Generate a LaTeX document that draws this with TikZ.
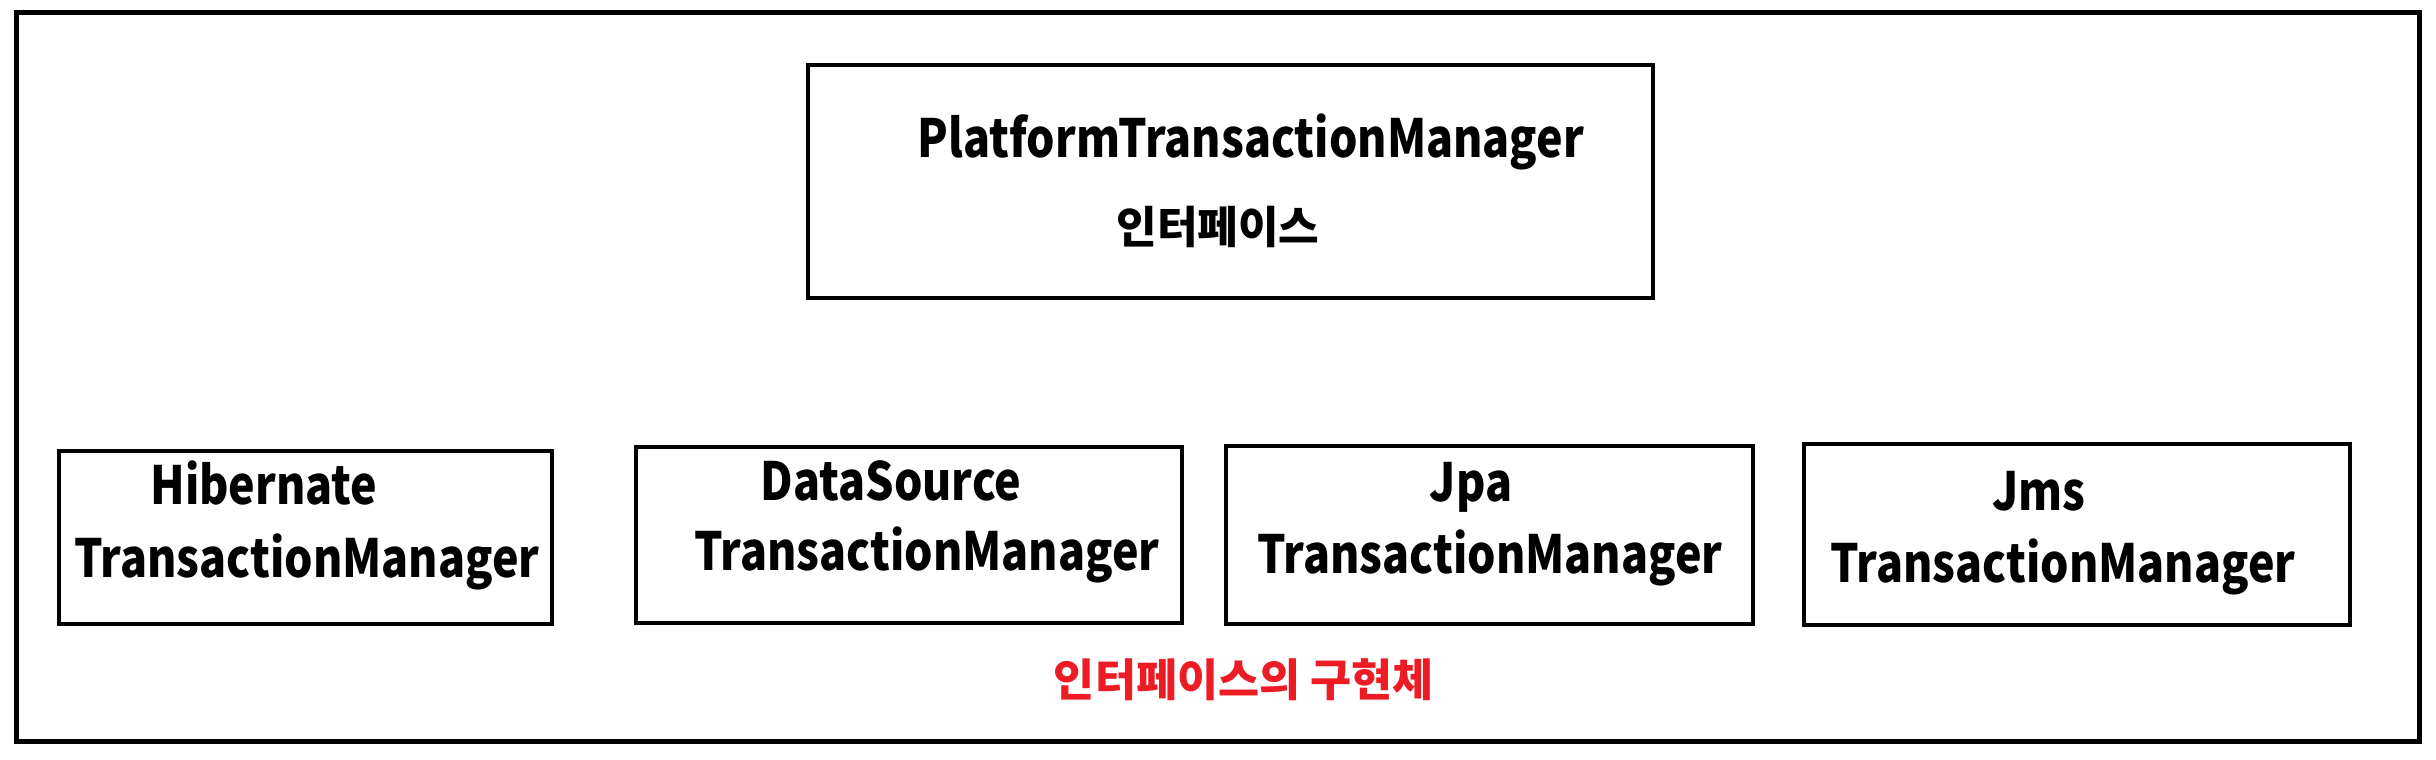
\documentclass[tikz,border=0pt]{standalone}
\usepackage{fontspec}
\newfontfamily\kr{Noto Sans CJK KR}
\newfontfamily\krn{Noto Sans CJK KR}[FakeStretch=0.85]
\definecolor{redtxt}{RGB}{237,28,36}
\tikzset{
  frame/.style={draw=black, line width=1.5pt, inner sep=0pt, fill=none},
  boxn/.style={draw=black, line width=1.4pt, inner sep=0pt},
  lat/.style={inner sep=0pt, anchor=base, font=\krn\bfseries\fontsize{15.8}{18}\selectfont},
  kor/.style={inner sep=0pt, anchor=center, font=\kr\bfseries\fontsize{13.25}{15}\selectfont},
  redlab/.style={inner sep=0pt, anchor=center, text=redtxt, font=\kr\bfseries\fontsize{13.4}{15}\selectfont}
}
\begin{document}
\begin{tikzpicture}[x=0.3pt,y=-0.3pt]
\useasboundingbox[fill=white] (0,0) rectangle (2436,760);
\node[frame, minimum width=720.9pt, minimum height=219pt] (outer) at (1217.5,377) {};
\node[boxn, minimum width=253.5pt, minimum height=69.9pt] (top) at (1230.5,181.5) {};
\node[lat] (ptm) at (1251,158) {PlatformTransactionManager};
\node[kor] (ifc) at (1218,227) {인터페이스};
\node[boxn, minimum width=147.9pt, minimum height=51.9pt] (hib) at (305.5,537.5) {};
\node[lat] (hibA) at (264,505) {Hibernate};
\node[lat] (hibB) at (307,577) {TransactionManager};
\node[boxn, minimum width=163.8pt, minimum height=52.8pt] (ds) at (909,535) {};
\node[lat] (dsA) at (891,500) {DataSource};
\node[lat] (dsB) at (927,570) {TransactionManager};
\node[boxn, minimum width=158.1pt, minimum height=53.4pt] (jpa) at (1489.5,535) {};
\node[lat] (jpaA) at (1471,501) {Jpa};
\node[lat] (jpaB) at (1490,573) {TransactionManager};
\node[boxn, minimum width=163.8pt, minimum height=54.3pt] (jms) at (2077,534.5) {};
\node[lat] (jmsA) at (2039,510) {Jms};
\node[lat] (jmsB) at (2063,582) {TransactionManager};
\node[redlab] (impl) at (1244,680) {인터페이스의 구현체};
\end{tikzpicture}
\end{document}
